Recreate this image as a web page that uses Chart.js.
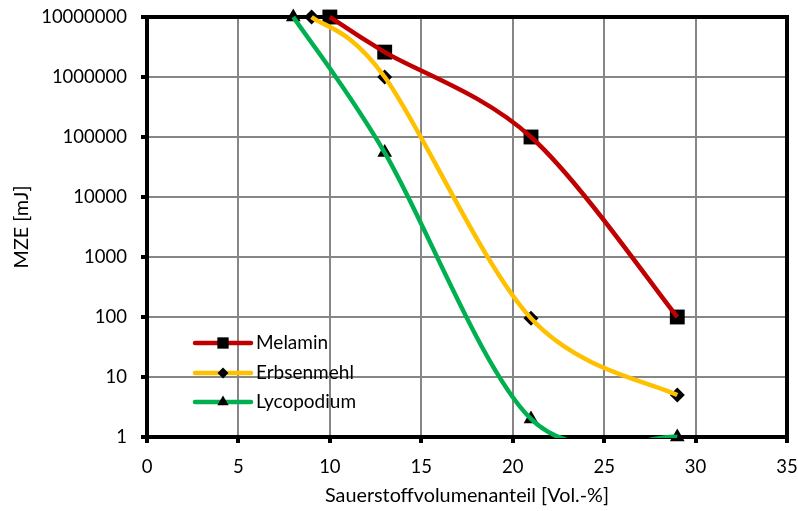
<!DOCTYPE html>
<html>
<head>
<meta charset="utf-8">
<script src="https://cdn.jsdelivr.net/npm/chart.js@4.4.1/dist/chart.umd.min.js"></script>
<style>
  html, body { margin: 0; padding: 0; background: #fff; }
</style>
</head>
<body>
<canvas id="mze" width="798" height="511"></canvas>
<script>
// Sauerstoffvolumenanteil [Vol.-%] und MZE [mJ] je Staub
const melaminX      = [10, 13, 21, 29];
const melaminY      = [10000000, 2600000, 100000, 100];
const erbsenmehlX   = [9, 13, 21, 29];
const erbsenmehlY   = [10000000, 1000000, 95, 5];
const lycopodiumX   = [8, 13, 21, 29];
const lycopodiumY   = [10000000, 55000, 2, 1];

const yTicks = [1, 10, 100, 1000, 10000, 100000, 1000000, 10000000];

const FONT = "Lato, 'Open Sans', sans-serif";
const FS   = 19;
const FS_TITLE = 19.8;
const FS_TICK = 18.5;

const series = [
  { label: 'Melamin',    xs: melaminX,    ys: melaminY,    color: '#C00000', style: 'rect',     radius: 10.5, legendRadius: 8 },
  { label: 'Erbsenmehl', xs: erbsenmehlX, ys: erbsenmehlY, color: '#FFC000', style: 'rectRot',  radius: 7.5,  legendRadius: 5.5 },
  { label: 'Lycopodium', xs: lycopodiumX, ys: lycopodiumY, color: '#00B050', style: 'triangle', radius: 8.5,  legendRadius: 6.5 },
];

const pts = s => s.xs.map((x, i) => ({ x, y: s.ys[i] }));

// Linien (geglättet, am Diagrammrand abgeschnitten) und Marker getrennt
const datasets = [];
series.forEach(s => {
  datasets.push({
    label: s.label,
    data: pts(s),
    borderColor: s.color,
    borderWidth: 4.5,
    tension: 0.4,
    pointRadius: 0,
    fill: false,
    clip: { left: 3, top: 3, right: 3, bottom: 1 },
    smoothLine: true,
  });
});
series.forEach(s => {
  datasets.push({
    label: s.label + ' marker',
    data: pts(s),
    showLine: false,
    pointStyle: s.style,
    pointRadius: s.radius,
    pointBackgroundColor: '#000',
    pointBorderColor: '#000',
    pointBorderWidth: 0,
    clip: false,
  });
});

// Glättung wie in Excel: Kontrollpunkte = Punkt ± (Nachfolger - Vorgänger) / 6
const catmullRom = {
  id: 'catmullRom',
  beforeDatasetDraw(chart, args) {
    const meta = args.meta;
    if (!chart.data.datasets[args.index].smoothLine || !meta.dataset) return;
    const line = meta.dataset;
    line.updateControlPoints(chart.chartArea);
    const p = meta.data;
    p.forEach((pt, i) => {
      const prev = p[Math.max(0, i - 1)];
      const next = p[Math.min(p.length - 1, i + 1)];
      const dx = (next.x - prev.x) / 6;
      const dy = (next.y - prev.y) / 6;
      pt.cp1x = pt.x - dx; pt.cp1y = pt.y - dy;
      pt.cp2x = pt.x + dx; pt.cp2y = pt.y + dy;
    });
    line._path = undefined;
  },
};

// Rahmen um die Zeichenfläche
const frame = {
  id: 'frame',
  beforeDatasetsDraw(chart) {
    const { ctx, chartArea: a } = chart;
    ctx.save();
    ctx.strokeStyle = '#000';
    ctx.lineWidth = 4;
    ctx.strokeRect(a.left, a.top, a.right - a.left, a.bottom - a.top);
    ctx.restore();
  },
};

// Legende mit Linie + Marker in der Mitte
const innerLegend = {
  id: 'innerLegend',
  afterDatasetsDraw(chart) {
    const ctx = chart.ctx;
    const x0 = 195, x1 = 251, tx = 256;
    const rows = [343, 373, 402];
    ctx.save();
    series.forEach((s, i) => {
      const y = rows[i];
      ctx.strokeStyle = s.color;
      ctx.lineWidth = 4.5;
      ctx.lineCap = 'round';
      ctx.beginPath();
      ctx.moveTo(x0, y);
      ctx.lineTo(x1, y);
      ctx.stroke();
      ctx.fillStyle = '#000';
      ctx.strokeStyle = '#000';
      Chart.helpers.drawPoint(ctx, {
        pointStyle: s.style,
        radius: s.legendRadius,
        rotation: 0,
        borderWidth: 0,
      }, (x0 + x1) / 2, y);
      ctx.fillStyle = '#000';
      ctx.font = FS + 'px ' + FONT;
      ctx.textBaseline = 'middle';
      ctx.textAlign = 'left';
      ctx.fillText(s.label, tx, y);
    });
    ctx.restore();
  },
};

new Chart(document.getElementById('mze'), {
  type: 'line',
  data: { datasets },
  plugins: [catmullRom, frame, innerLegend],
  options: {
    responsive: false,
    animation: false,
    events: [],
    elements: { line: { capBezierPoints: false } },
    layout: { padding: { top: 17, right: 11, left: 0, bottom: 0 } },
    plugins: { legend: { display: false }, tooltip: { enabled: false } },
    scales: {
      x: {
        type: 'linear',
        min: 0, max: 35,
        ticks: { stepSize: 5, color: '#000', font: { family: FONT, size: FS_TICK }, padding: 13, maxRotation: 0 },
        grid: { color: '#868686', lineWidth: 2, tickColor: '#000', tickWidth: 4, tickLength: 6 },
        border: { display: false },
        title: {
          display: true, text: 'Sauerstoffvolumenanteil [Vol.-%]',
          color: '#000', font: { family: FONT, size: FS_TITLE }, padding: { top: 0, bottom: 4 },
        },
        afterFit: scale => {
          scale.height = 74;
          scale.paddingLeft = 0;
          scale.paddingRight = 0;
        },
      },
      y: {
        type: 'logarithmic',
        min: 1, max: 10000000,
        afterBuildTicks: axis => { axis.ticks = yTicks.map(v => ({ value: v })); },
        ticks: {
          color: '#000', font: { family: FONT, size: FS_TICK }, padding: 14,
          callback: v => String(Math.round(v)),
        },
        grid: { color: '#868686', lineWidth: 2, tickColor: '#000', tickWidth: 4, tickLength: 6 },
        border: { display: false },
        title: {
          display: true, text: 'MZE [mJ]',
          color: '#000', font: { family: FONT, size: FS_TITLE }, padding: { top: 10, bottom: 0 },
        },
        afterFit: scale => {
          scale.width = 147;
          scale.paddingTop = 0;
          scale.paddingBottom = 0;
        },
      },
    },
  },
});
</script>
</body>
</html>
